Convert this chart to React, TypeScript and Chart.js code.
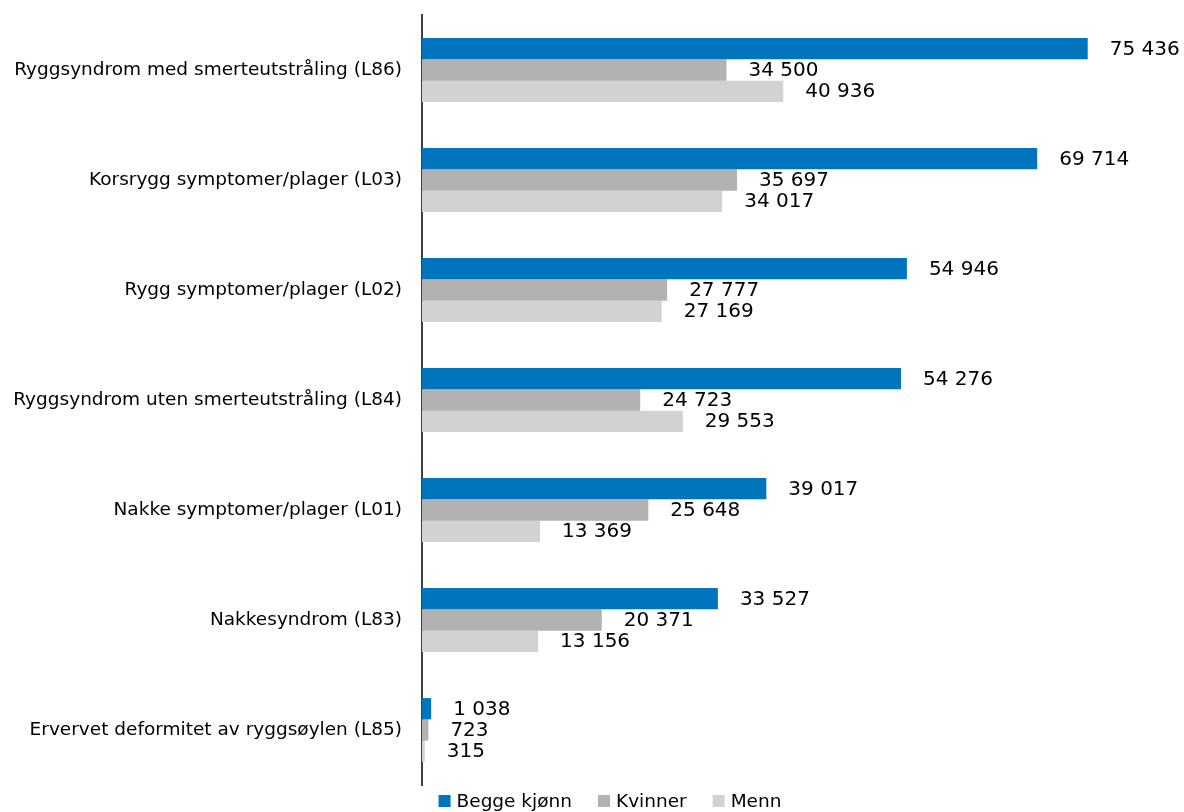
import React, { useEffect, useRef } from "react";
import { Chart, registerables } from "chart.js";

Chart.register(...registerables);

const categories = [
  "Ryggsyndrom med smerteutstråling (L86)",
  "Korsrygg symptomer/plager (L03)",
  "Rygg symptomer/plager (L02)",
  "Ryggsyndrom uten smerteutstråling (L84)",
  "Nakke symptomer/plager (L01)",
  "Nakkesyndrom (L83)",
  "Ervervet deformitet av ryggsøylen (L85)",
];
const beggeKjonn = [75436, 69714, 54946, 54276, 39017, 33527, 1038];
const kvinner = [34500, 35697, 27777, 24723, 25648, 20371, 723];
const menn = [40936, 34017, 27169, 29553, 13369, 13156, 315];

const FONT = "'DejaVu Sans', sans-serif";

const fmt = (v: number) => v.toString().replace(/\B(?=(\d{3})+(?!\d))/g, " ");

const valueLabels = {
  id: "valueLabels",
  afterDatasetsDraw(chart: any) {
    const ctx = chart.ctx;
    ctx.save();
    ctx.font = `20px ${FONT}`;
    ctx.fillStyle = "#000";
    ctx.textAlign = "left";
    ctx.textBaseline = "middle";
    chart.data.datasets.forEach((ds: any, i: number) => {
      const meta = chart.getDatasetMeta(i);
      meta.data.forEach((el: any, j: number) => {
        ctx.fillText(fmt(ds.data[j]), el.x + 22, el.y + 1);
      });
    });
    ctx.restore();
  },
};

const bottomLegend = {
  id: "bottomLegend",
  afterDraw(chart: any) {
    const ctx = chart.ctx;
    ctx.save();
    ctx.font = `18.5px ${FONT}`;
    ctx.textBaseline = "middle";
    ctx.textAlign = "left";
    const box = 12, gapText = 6, gapItem = 26;
    const items = chart.data.datasets.map((ds: any) => ({
      label: ds.label,
      color: ds.backgroundColor,
      w: ctx.measureText(ds.label).width,
    }));
    const total = items.reduce((s: number, it: any) => s + box + gapText + it.w, 0) + gapItem * (items.length - 1);
    let x = 610 - total / 2;
    const cy = 801;
    items.forEach((it: any) => {
      ctx.fillStyle = it.color;
      ctx.fillRect(x, cy - box / 2, box, box);
      ctx.fillStyle = "#000";
      ctx.fillText(it.label, x + box + gapText, cy + 1);
      x += box + gapText + it.w + gapItem;
    });
    ctx.restore();
  },
};

export default function App() {
  const ref = useRef<HTMLCanvasElement>(null);
  useEffect(() => {
    document.body.style.margin = "0";
    const chart = new Chart(ref.current!, {
      type: "bar",
      data: {
        labels: categories,
        datasets: [
          { label: "Begge kjønn", data: beggeKjonn, backgroundColor: "#0075BD" },
          { label: "Kvinner", data: kvinner, backgroundColor: "#B2B2B3" },
          { label: "Menn", data: menn, backgroundColor: "#D1D2D4" },
        ],
      },
      options: {
        indexAxis: "y",
        animation: false,
        responsive: false,
        maintainAspectRatio: false,
        layout: { padding: { top: 15, right: 56, left: 0, bottom: 27 } },
        datasets: { bar: { barPercentage: 1, categoryPercentage: 0.58 } },
        scales: {
          x: {
            min: 0,
            max: 80000,
            display: false,
            grid: { display: false },
          },
          y: {
            afterFit(scale: any) {
              scale.width = 422;
              scale.paddingTop = 0;
              scale.paddingBottom = 0;
            },
            grid: { display: false, drawTicks: false },
            border: { display: true, color: "#404040", width: 2 },
            ticks: {
              padding: 20,
              color: "#000",
              font: { family: FONT, size: 18.5 },
            },
          },
        },
        plugins: {
          legend: { display: false },
          tooltip: { enabled: false },
        },
      },
      plugins: [valueLabels, bottomLegend],
    });
    return () => chart.destroy();
  }, []);
  return <canvas ref={ref} width={1184} height={812} style={{ display: "block" }} />;
}
